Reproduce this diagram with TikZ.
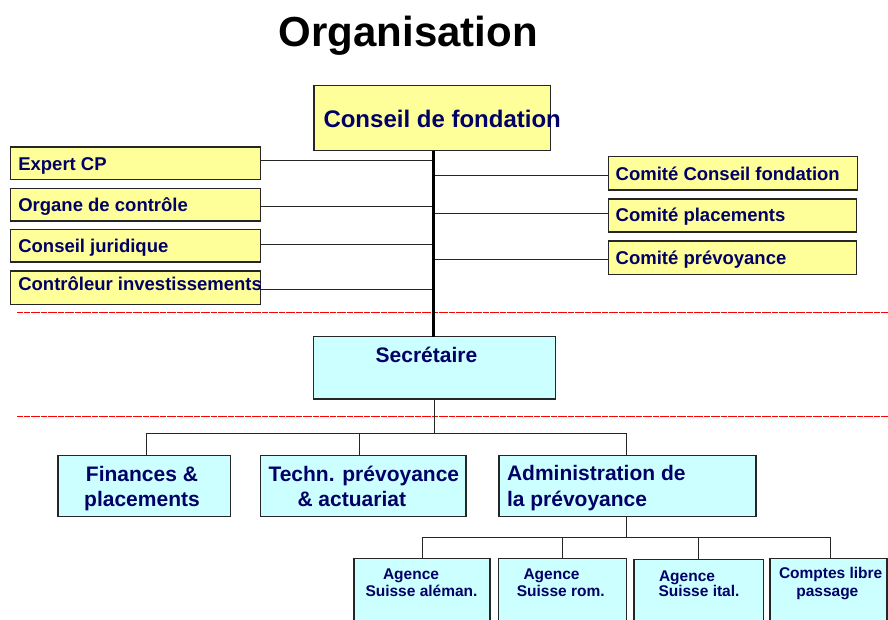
\documentclass[tikz,border=0pt]{standalone}
\usepackage{fontspec}
\setmainfont{Liberation Sans}
\definecolor{yfill}{RGB}{255,255,153}
\definecolor{cfill}{RGB}{204,255,255}
\definecolor{navy}{RGB}{0,0,102}
\begin{document}
\begin{tikzpicture}[x=1pt,y=-1pt,
  boxbase/.style={draw=black!85, line width=1.2pt, inner sep=0pt, outer sep=0pt, anchor=north west},
  ybox/.style={boxbase, fill=yfill},
  cbox/.style={boxbase, fill=cfill},
  conn/.style={draw=black!85, line width=0.8pt},
  trunk/.style={draw=black, line width=3pt},
  sep/.style={draw=red, line width=1.6pt, dash pattern=on 3pt off 0.4pt},
  txt/.style={inner sep=0pt, outer sep=0pt, anchor=base west, text=navy, font=\bfseries},
  ctxt/.style={txt, anchor=base},
  big/.style={font=\bfseries\fontsize{24}{28}\selectfont},
  med/.style={font=\bfseries\fontsize{21}{25}\selectfont},
  sml/.style={font=\bfseries\fontsize{18.5}{22}\selectfont},
  tiny/.style={font=\bfseries\fontsize{15.5}{18}\selectfont}
]
\clip (0,0) rectangle (888,619);
\fill[white] (0,0) rectangle (888,619);

% title
\node[inner sep=0pt, anchor=base west, font=\bfseries\fontsize{42}{48}\selectfont] (title) at (278.5,46.7) {Organisation};

% separators
\coordinate (s1a) at (17,312.5); \coordinate (s1b) at (888,312.5);
\coordinate (s2a) at (17,416.5); \coordinate (s2b) at (888,416.5);
\draw[sep] (s1a) -- (s1b);
\draw[sep] (s2a) -- (s2b);

% boxes
\node[ybox, minimum width=236.7pt, minimum height=65pt] (conseil) at (314,85.7) {};
\node[ybox, minimum width=249.6pt, minimum height=32.7pt] (expert) at (10.7,147) {};
\node[ybox, minimum width=249.6pt, minimum height=32.7pt] (organe) at (10.7,188.3) {};
\node[ybox, minimum width=249.6pt, minimum height=32.7pt] (jurid) at (10.7,229.3) {};
\node[ybox, minimum width=249.6pt, minimum height=33.3pt] (controle) at (10.7,271) {};
\node[ybox, minimum width=249.4pt, minimum height=33.3pt] (ccf) at (608.3,156.7) {};
\node[ybox, minimum width=248.4pt, minimum height=33pt] (cpl) at (608.3,199) {};
\node[ybox, minimum width=248.4pt, minimum height=33.3pt] (cpr) at (608.3,241) {};
\node[cbox, minimum width=242.4pt, minimum height=62.3pt] (secr) at (313.3,336.7) {};
\node[cbox, minimum width=172.5pt, minimum height=61.2pt] (fin) at (58,455.5) {};
\node[cbox, minimum width=205.5pt, minimum height=61.2pt] (tech) at (260.5,455.5) {};
\node[cbox, minimum width=257pt, minimum height=61pt] (admin) at (499,455.7) {};
\node[cbox, minimum width=136pt, minimum height=80pt] (ag1) at (354,558.3) {};
\node[cbox, minimum width=128.4pt, minimum height=80pt] (ag2) at (498.3,558.3) {};
\node[cbox, minimum width=129.3pt, minimum height=80pt] (ag3) at (634,559.3) {};
\node[cbox, minimum width=117pt, minimum height=80pt] (ag4) at (770,558.3) {};

% connector coordinates
\coordinate (tx) at (433.6,0);
\coordinate (l1) at (433.6,160.7);
\coordinate (l2) at (433.6,206.3);
\coordinate (l3) at (433.6,244);
\coordinate (l4) at (433.6,289.3);
\coordinate (r1) at (433.6,175);
\coordinate (r2) at (433.6,213.7);
\coordinate (r3) at (433.6,259);
\coordinate (b1) at (434.3,433.5);
\coordinate (d1) at (146.7,433.5);
\coordinate (d2) at (359,433.5);
\coordinate (d3) at (626.7,433.5);
\coordinate (e0) at (626.7,537.3);
\coordinate (e1) at (422.3,537.3);
\coordinate (e2) at (562.3,537.3);
\coordinate (e3) at (698.5,537.3);
\coordinate (e4) at (830,537.3);

% connectors
\draw[conn] (expert.east |- l1) -- (l1);
\draw[conn] (organe.east |- l2) -- (l2);
\draw[conn] (jurid.east |- l3) -- (l3);
\draw[conn] (controle.east |- l4) -- (l4);
\draw[conn] (r1) -- (ccf.west |- r1);
\draw[conn] (r2) -- (cpl.west |- r2);
\draw[conn] (r3) -- (cpr.west |- r3);
\draw[trunk] (conseil.south -| tx) -- (secr.north -| tx);
\draw[conn] (secr.south -| b1) -- (b1);
\draw[conn] (fin.north -| d1) -- (d1) -- (d3) -- (admin.north -| d3);
\draw[conn] (tech.north -| d2) -- (d2);
\draw[conn] (admin.south -| e0) -- (e0);
\draw[conn] (ag1.north -| e1) -- (e1) -- (e4) -- (ag4.north -| e4);
\draw[conn] (ag2.north -| e2) -- (e2);
\draw[conn] (ag3.north -| e3) -- (e3);

% texts
\node[txt, big] (tconseil) at (323.5,127.7) {Conseil de fondation};
\node[txt, sml] (texpert) at (18.3,170.7) {Expert CP};
\node[txt, sml] (torgane) at (18.3,211.7) {Organe de contrôle};
\node[txt, sml] (tjurid) at (18.3,252.3) {Conseil juridique};
\node[txt, sml] (tcontrole) at (18.3,290.7) {Contrôleur investissements};
\node[txt, sml] (tccf) at (615.7,180) {Comité Conseil fondation};
\node[txt, sml] (tcpl) at (615.7,221.7) {Comité placements};
\node[txt, sml] (tcpr) at (615.7,264.3) {Comité prévoyance};
\node[txt, med] (tsecr) at (375.7,362.7) {Secrétaire};
\node[ctxt, med] (tfin1) at (142,481.7) {Finances \&};
\node[ctxt, med] (tfin2) at (142,506.7) {placements};
\node[txt, med] (ttech1) at (268.5,481.7) {Techn. prévoyance};
\node[txt, med] (ttech2) at (297.5,506.7) {\& actuariat};
\node[txt, med] (tadm1) at (507,480.7) {Administration de};
\node[txt, med] (tadm2) at (507,506) {la prévoyance};
\node[txt, tiny] (tag1a) at (383,579.3) {Agence};
\node[txt, tiny] (tag1b) at (365.5,596.7) {Suisse aléman.};
\node[txt, tiny] (tag2a) at (523.5,579.3) {Agence};
\node[txt, tiny] (tag2b) at (516.8,596.7) {Suisse rom.};
\node[txt, tiny] (tag3a) at (659,581.7) {Agence};
\node[txt, tiny] (tag3b) at (658.5,596.7) {Suisse ital.};
\node[txt, tiny] (tag4a) at (779,578.3) {Comptes libre};
\node[txt, tiny] (tag4b) at (796.3,596) {passage};
\end{tikzpicture}
\end{document}
